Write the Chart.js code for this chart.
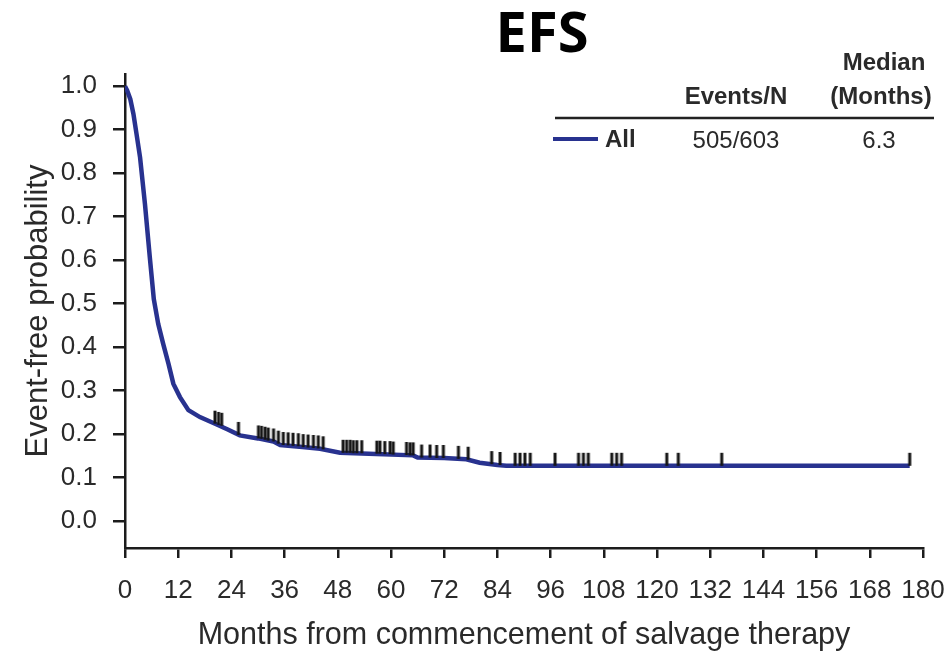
<!DOCTYPE html>
<html><head><meta charset="utf-8">
<script src="https://cdn.jsdelivr.net/npm/chart.js@4/dist/chart.umd.min.js"></script>
<style>html,body{margin:0;padding:0;background:#fff;}#wrap{width:946px;height:654px;}</style>
</head><body><div id="wrap"><canvas id="c" width="946" height="654"></canvas></div>
<script>
const chartTitle = 'EFS';
const xAxisTitle = 'Months from commencement of salvage therapy';
const yAxisTitle = 'Event-free probability';
const xTickValues = [0,12,24,36,48,60,72,84,96,108,120,132,144,156,168,180];
const yTickValues = [0,0.1,0.2,0.3,0.4,0.5,0.6,0.7,0.8,0.9,1.0];

const curveMonths = [0,0.5,1.2,1.9,2.6,3.4,4.5,5.6,6.5,7.5,8.6,9.8,10.9,12.4,14.3,16.9,20.7,23.3,25.9,30,33.5,35,40,44,48.5,55,65,66,72,77,80,84,86,177];
const curveProb   = [1.0,0.99,0.97,0.936,0.89,0.836,0.729,0.606,0.51,0.453,0.408,0.362,0.316,0.285,0.255,0.239,0.222,0.21,0.197,0.19,0.183,0.175,0.17,0.166,0.157,0.155,0.151,0.146,0.145,0.142,0.134,0.129,0.127,0.127];

const censorMonths = [20.3,21.1,21.8,25.6,30.1,30.8,31.6,32.3,33.5,34.6,35.7,36.8,37.9,39.1,40.2,41.3,42.5,43.6,44.7,49.2,50,50.8,51.5,52.3,53.4,56.8,57.5,58.6,59.8,60.5,63.5,64.3,65,66.9,68.8,70.3,71.8,75.2,77.4,82.7,84.6,88,89.1,90.2,91.4,97,102.3,103.4,104.5,109.8,110.9,112,122.2,124.8,134.6,177];
const censorProb   = [0.224,0.221,0.219,0.198,0.19,0.189,0.187,0.185,0.183,0.178,0.175,0.174,0.173,0.172,0.17,0.169,0.168,0.167,0.165,0.157,0.157,0.157,0.156,0.156,0.156,0.155,0.155,0.154,0.154,0.153,0.152,0.151,0.151,0.146,0.146,0.145,0.145,0.143,0.141,0.131,0.129,0.127,0.127,0.127,0.127,0.127,0.127,0.127,0.127,0.127,0.127,0.127,0.127,0.127,0.127,0.127];

const legendSeries = 'All';
const legendEvents = '505/603';
const legendMedian = '6.3';
const legendHeadEvents = 'Events/N';
const legendHeadMedian = ['Median', '(Months)'];

const curveColor = '#28328f';
const axisColor = '#1c1c1c';
const textColor = '#2a2a2a';

const mark = document.createElement('canvas');
mark.width = 6; mark.height = 28;
const mctx = mark.getContext('2d');
mctx.fillStyle = '#151515';
mctx.fillRect(1.5, 1, 3, 13);

const overlay = {
  id: 'overlay',
  afterDraw(chart) {
    const ctx = chart.ctx;
    ctx.save();
    ctx.fillStyle = '#000';
    ctx.textAlign = 'center';
    ctx.textBaseline = 'middle';
    ctx.font = '700 56px "Open Sans"';
    ctx.fillText(chartTitle, 542, 36);
    ctx.fillStyle = textColor;
    ctx.font = '700 24px "Liberation Sans", Arial';
    ctx.fillText(legendHeadEvents, 736, 97);
    ctx.fillText(legendHeadMedian[0], 884, 63);
    ctx.fillText(legendHeadMedian[1], 881, 97);
    ctx.strokeStyle = '#222';
    ctx.lineWidth = 2.5;
    ctx.beginPath(); ctx.moveTo(555, 118); ctx.lineTo(934, 118); ctx.stroke();
    ctx.strokeStyle = curveColor;
    ctx.lineWidth = 4;
    ctx.beginPath(); ctx.moveTo(553, 139); ctx.lineTo(598, 139); ctx.stroke();
    ctx.textAlign = 'left';
    ctx.fillText(legendSeries, 605, 140);
    ctx.textAlign = 'center';
    ctx.font = '400 24px "Liberation Sans", Arial';
    ctx.fillText(legendEvents, 736, 141);
    ctx.fillText(legendMedian, 879, 141);
    ctx.restore();
  }
};

new Chart(document.getElementById('c'), {
  data: {
    datasets: [
      {
        type: 'scatter',
        data: censorMonths.map((m, i) => ({x: m, y: censorProb[i]})),
        pointStyle: mark,
        pointRadius: 5,
        pointHoverRadius: 5
      },
      {
        type: 'line',
        data: curveMonths.map((m, i) => ({x: m, y: curveProb[i]})),
        borderColor: curveColor,
        borderWidth: 4.5,
        pointRadius: 0,
        tension: 0,
        fill: false
      }
    ]
  },
  options: {
    responsive: false,
    animation: false,
    devicePixelRatio: 1,
    layout: {padding: {left: 0, right: 23, top: 74, bottom: 0}},
    plugins: {legend: {display: false}, tooltip: {enabled: false}, title: {display: false}},
    scales: {
      x: {
        type: 'linear', min: 0, max: 180,
        afterBuildTicks: s => { s.ticks = xTickValues.map(v => ({value: v})); },
        afterFit: s => { s.height = 106; s.paddingRight = 0; s.paddingLeft = 0; },
        border: {display: true, color: axisColor, width: 2.5},
        grid: {display: true, drawOnChartArea: false, drawTicks: true, tickLength: 10, color: axisColor, lineWidth: 2.5},
        ticks: {color: textColor, font: {family: '"Liberation Sans", Arial', size: 26}, padding: 17, maxRotation: 0, autoSkip: false},
        title: {display: true, text: xAxisTitle, color: textColor, font: {family: '"Liberation Sans", Arial', size: 30.5}, padding: {top: 0, bottom: 0}}
      },
      y: {
        type: 'linear', min: -0.062, max: 1.028,
        afterBuildTicks: s => { s.ticks = yTickValues.map(v => ({value: v})); },
        afterFit: s => { s.width = 125; s.paddingTop = 0; s.paddingBottom = 0; },
        border: {display: true, color: axisColor, width: 2.5},
        grid: {display: true, drawOnChartArea: false, drawTicks: true, tickLength: 12, color: axisColor, lineWidth: 2.5},
        ticks: {color: textColor, font: {family: '"Liberation Sans", Arial', size: 26}, padding: 16, callback: v => Number(v).toFixed(1)},
        title: {display: true, text: yAxisTitle, color: textColor, font: {family: '"Liberation Sans", Arial', size: 31}, padding: {top: 20, bottom: 0}}
      }
    }
  },
  plugins: [overlay]
});
</script></body></html>
